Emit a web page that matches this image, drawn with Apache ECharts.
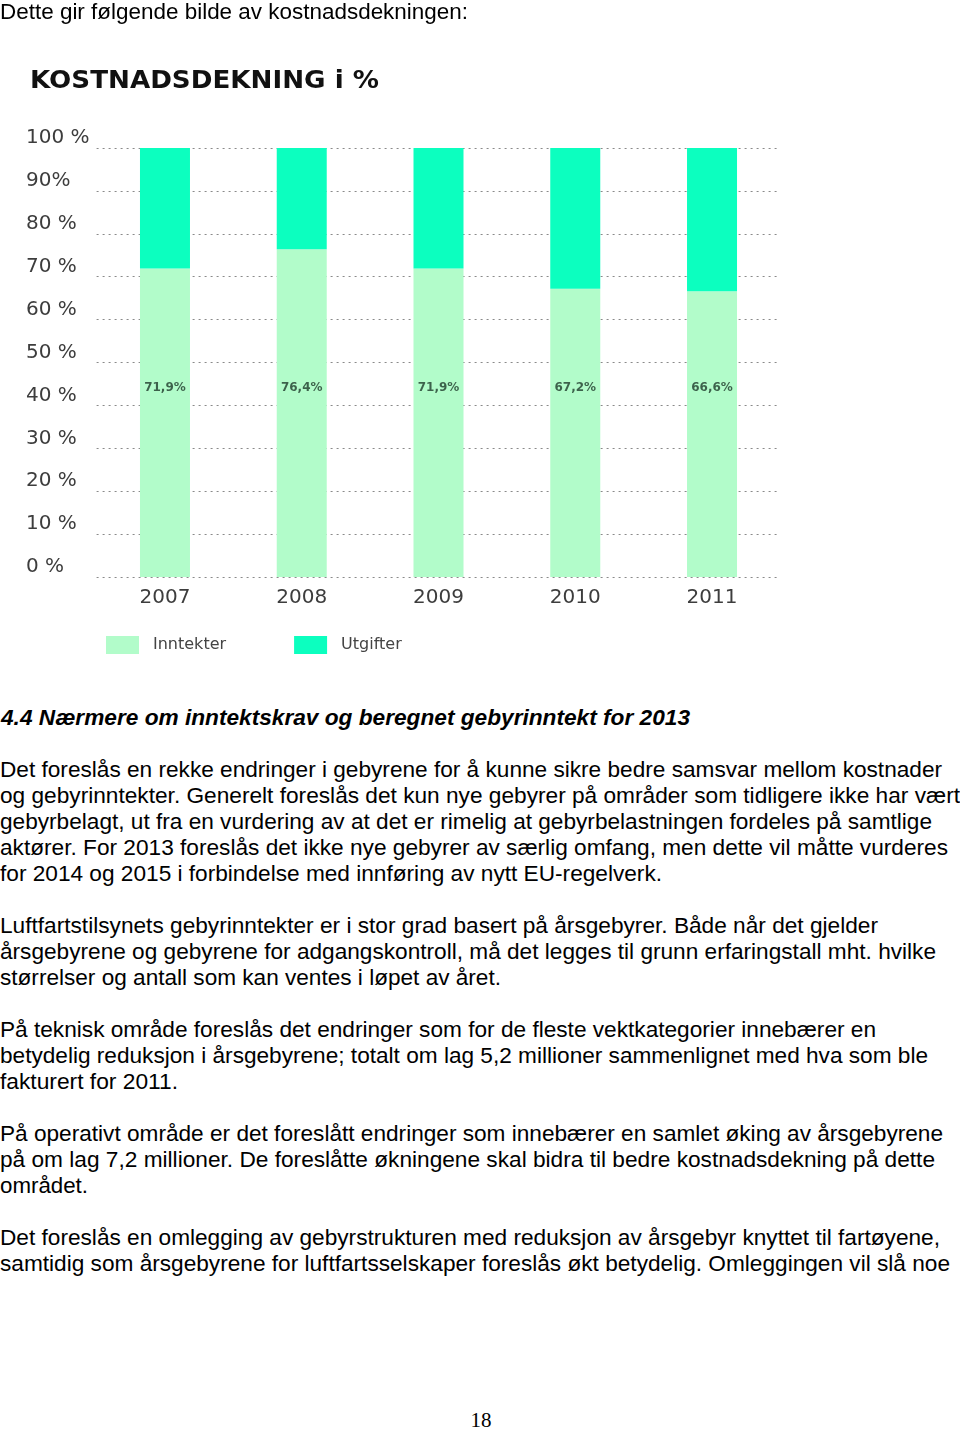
<!DOCTYPE html>
<html>
<head>
<meta charset="utf-8">
<script src="https://cdn.jsdelivr.net/npm/echarts@6/dist/echarts.min.js"></script>
<style>
  html, body { margin:0; padding:0; background:#fff; }
  body { width:960px; height:1430px; position:relative; overflow:hidden; }
  #chart { position:absolute; left:0; top:0; width:960px; height:690px; z-index:0; }
  .ln { position:absolute; left:0; height:26px; line-height:26px; white-space:nowrap; z-index:2;
        font-family:"Liberation Sans", Arial, sans-serif; font-size:22px; color:#000; }
  .ln span { display:inline-block; transform-origin:0 50%; }
  .hd { font-weight:bold; font-style:italic; }
  .pg { position:absolute; top:1407px; left:0; width:962px; text-align:center;
        font-family:"Liberation Serif", serif; font-size:21px; line-height:26px; }
</style>
</head>
<body>
<div id="chart"></div>
<div class="ln" style="top:-1px" data-w="468"><span>Dette gir følgende bilde av kostnadsdekningen:</span></div>

<div class="ln hd" style="top:705px;left:1px" data-w="689"><span>4.4 Nærmere om inntektskrav og beregnet gebyrinntekt for 2013</span></div>

<div class="ln" style="top:757px" data-w="942"><span>Det foreslås en rekke endringer i gebyrene for å kunne sikre bedre samsvar mellom kostnader</span></div>
<div class="ln" style="top:783px" data-w="960"><span>og gebyrinntekter. Generelt foreslås det kun nye gebyrer på områder som tidligere ikke har vært</span></div>
<div class="ln" style="top:809px" data-w="932"><span>gebyrbelagt, ut fra en vurdering av at det er rimelig at gebyrbelastningen fordeles på samtlige</span></div>
<div class="ln" style="top:835px" data-w="948"><span>aktører. For 2013 foreslås det ikke nye gebyrer av særlig omfang, men dette vil måtte vurderes</span></div>
<div class="ln" style="top:861px" data-w="662"><span>for 2014 og 2015 i forbindelse med innføring av nytt EU-regelverk.</span></div>

<div class="ln" style="top:913px" data-w="878"><span>Luftfartstilsynets gebyrinntekter er i stor grad basert på årsgebyrer. Både når det gjelder</span></div>
<div class="ln" style="top:939px" data-w="936"><span>årsgebyrene og gebyrene for adgangskontroll, må det legges til grunn erfaringstall mht. hvilke</span></div>
<div class="ln" style="top:965px" data-w="501"><span>størrelser og antall som kan ventes i løpet av året.</span></div>

<div class="ln" style="top:1017px" data-w="876"><span>På teknisk område foreslås det endringer som for de fleste vektkategorier innebærer en</span></div>
<div class="ln" style="top:1043px" data-w="928"><span>betydelig reduksjon i årsgebyrene; totalt om lag 5,2 millioner sammenlignet med hva som ble</span></div>
<div class="ln" style="top:1069px" data-w="178"><span>fakturert for 2011.</span></div>

<div class="ln" style="top:1121px" data-w="943"><span>På operativt område er det foreslått endringer som innebærer en samlet øking av årsgebyrene</span></div>
<div class="ln" style="top:1147px" data-w="935"><span>på om lag 7,2 millioner. De foreslåtte økningene skal bidra til bedre kostnadsdekning på dette</span></div>
<div class="ln" style="top:1173px" data-w="88"><span>området.</span></div>

<div class="ln" style="top:1225px" data-w="940"><span>Det foreslås en omlegging av gebyrstrukturen med reduksjon av årsgebyr knyttet til fartøyene,</span></div>
<div class="ln" style="top:1251px" data-w="950"><span>samtidig som årsgebyrene for luftfartsselskaper foreslås økt betydelig. Omleggingen vil slå noe</span></div>

<div class="pg">18</div>

<script>
// ---- chart data ----
var years = ['2007', '2008', '2009', '2010', '2011'];
var inntekter = [71.9, 76.4, 71.9, 67.2, 66.6];
var utgifter = [28.1, 23.6, 28.1, 32.8, 33.4];
var yTickLabels = ['0 %', '10 %', '20 %', '30 %', '40 %', '50 %', '60 %', '70 %', '80 %', '90%', '100 %'];
var labelLevel = 44.0;

// fit body text lines to reference widths
document.querySelectorAll('.ln').forEach(function (el) {
  var sp = el.querySelector('span');
  var w = sp.getBoundingClientRect().width;
  var t = parseFloat(el.getAttribute('data-w'));
  if (w > 0 && t > 0) sp.style.transform = 'scaleX(' + (t / w) + ')';
});

var LIGHT = '#b2fcca';
var DARK = '#0cffbf';
var FONT = '"DejaVu Sans", Verdana, sans-serif';

var chart = echarts.init(document.getElementById('chart'), null, { renderer: 'canvas' });
chart.setOption({
  animation: false,
  backgroundColor: 'transparent',
  graphic: [{
    type: 'text', x: 30, y: 82, scaleX: 1.09,
    style: { text: 'KOSTNADSDEKNING i %', font: 'bold 24px ' + FONT, fill: '#111', verticalAlign: 'middle', align: 'left' }
  }],
  legend: {
    data: ['Inntekter', 'Utgifter'],
    left: 106, top: 636, padding: 0,
    itemWidth: 33, itemHeight: 18, itemGap: 68,
    icon: 'rect',
    textStyle: { fontFamily: FONT, fontSize: 16, color: '#444', padding: [0, 0, 0, 9] }
  },
  grid: { left: 96.6, right: 179.6, top: 148, bottom: 113, containLabel: false },
  xAxis: {
    type: 'category',
    data: years,
    axisLine: { show: false },
    axisTick: { show: false },
    axisLabel: { fontFamily: FONT, fontSize: 20, color: '#3d3d3d', margin: 11 }
  },
  yAxis: {
    type: 'value', min: 0, max: 100, interval: 10,
    axisLine: { show: false },
    axisTick: { show: false },
    axisLabel: {
      formatter: function (v) { return yTickLabels[Math.round(v / 10)]; },
      align: 'left', margin: 70.6, verticalAlign: 'bottom', lineHeight: 20,
      fontFamily: FONT, fontSize: 20, color: '#3d3d3d'
    },
    splitLine: { show: true, lineStyle: { color: '#8a8a8a', width: 1, type: [2, 4] } }
  },
  series: [
    {
      name: 'Inntekter', type: 'bar', stack: 'k', barWidth: 50,
      data: inntekter, itemStyle: { color: LIGHT }, z: 3
    },
    {
      name: 'Utgifter', type: 'bar', stack: 'k', barWidth: 50,
      data: utgifter, itemStyle: { color: DARK }, z: 3
    },
    {
      name: 'labels', type: 'scatter', symbolSize: 0, silent: true, z: 5,
      data: years.map(function (y) { return [y, labelLevel]; }),
      label: {
        show: true, position: 'inside',
        formatter: function (p) { return inntekter[p.dataIndex].toFixed(1).replace('.', ',') + '%'; },
        fontFamily: FONT, fontSize: 12, fontWeight: 'bold', color: '#1e3a2a'
      }
    }
  ]
});
</script>
</body>
</html>
